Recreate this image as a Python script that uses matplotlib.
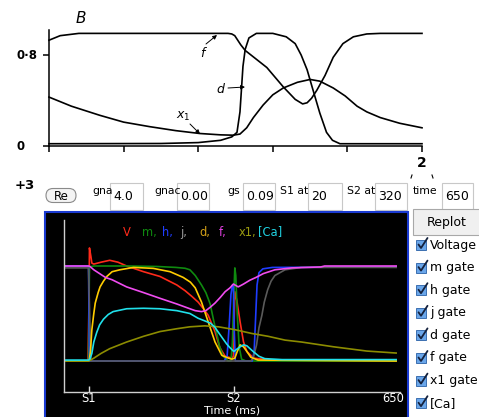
import matplotlib
matplotlib.use('Agg')
import numpy as np
import matplotlib.pyplot as plt
from matplotlib.patches import Rectangle, FancyBboxPatch

W, H = 479, 417

# ---- scanned panel B: gating variables, x in axis units (ticks every 100) ----
f_x = [0, 15, 40, 70, 240, 245, 249, 253, 257, 263, 292, 314, 330, 340, 346, 352, 359, 370, 381, 394, 408, 426, 444, 500]
f_y = [0.93, 0.97, 0.99, 0.99, 0.99, 0.985, 0.97, 0.93, 0.89, 0.84, 0.69, 0.52, 0.41, 0.37, 0.38, 0.42, 0.49, 0.62, 0.78, 0.90, 0.96, 0.985, 0.99, 0.99]

d_x = [0, 150, 200, 230, 245, 252, 256, 258, 260, 263, 268, 278, 300, 318, 330, 338, 346, 354, 363, 372, 380, 390, 500]
d_y = [0.02, 0.022, 0.03, 0.05, 0.08, 0.12, 0.3, 0.5, 0.7, 0.85, 0.95, 0.99, 0.99, 0.96, 0.9, 0.8, 0.67, 0.49, 0.29, 0.12, 0.05, 0.02, 0.02]

x1_x = [0, 30, 68, 100, 135, 170, 202, 230, 247, 256, 265, 274, 287, 300, 314, 333, 350, 363, 381, 397, 413, 426, 444, 470, 500]
x1_y = [0.43, 0.35, 0.27, 0.21, 0.17, 0.135, 0.11, 0.098, 0.095, 0.105, 0.16, 0.25, 0.36, 0.45, 0.51, 0.56, 0.585, 0.57, 0.51, 0.44, 0.35, 0.30, 0.25, 0.20, 0.16]

# ---- simulation panel: normalised traces vs time (ms) ----
S1, S2, t_end = 20, 320, 650

V_t = [-31, 18, 20, 21, 24, 26, 30, 45, 63, 80, 98, 133, 167, 202, 219, 233, 246, 257, 267, 281, 291, 302, 316, 319, 322, 326, 333, 340, 347, 361, 400, 656]
V_v = [0, 0, 0.6, 1.19, 1.1, 1.03, 1.02, 1.04, 1.06, 1.04, 1.0, 0.94, 0.89, 0.80, 0.74, 0.68, 0.62, 0.55, 0.48, 0.31, 0.14, 0.05, 0.03, 0.05, 0.73, 0.64, 0.41, 0.2, 0.1, 0.03, 0.01, 0.0]

m_t = [-31, 19, 21, 30, 100, 160, 200, 219, 229, 240, 253, 262, 271, 278, 284, 290, 298, 308, 314, 317, 320, 322, 324, 327, 331, 336, 345, 656]
m_v = [0, 0, 0.99, 1.0, 1.0, 0.995, 0.985, 0.976, 0.96, 0.9, 0.8, 0.72, 0.6, 0.43, 0.3, 0.16, 0.05, 0.0, 0.0, 0.2, 0.7, 0.98, 0.9, 0.5, 0.15, 0.02, 0.0, 0.0]

h_t = [-31, 19, 21, 300, 306, 310, 314, 317, 319, 321, 323, 358, 362, 365, 368, 372, 380, 400, 656]
h_v = [1.0, 1.0, 0.0, 0.0, 0.05, 0.35, 0.7, 0.8, 0.78, 0.3, 0.0, 0.0, 0.1, 0.45, 0.8, 0.93, 0.97, 0.985, 0.99]

j_t = [-31, 19, 24, 355, 360, 367, 372, 378, 383, 390, 397, 405, 426, 460, 656]
j_v = [0.98, 0.98, 0.0, 0.0, 0.03, 0.17, 0.35, 0.48, 0.62, 0.75, 0.84, 0.9, 0.96, 0.985, 0.985]

d_t = [-31, 19, 21, 23, 26, 30, 33, 39, 43, 50, 57, 68, 84, 112, 153, 188, 215, 230, 240, 253, 267, 281, 295, 309, 316, 322, 327, 333, 340, 347, 355, 370, 656]
d_v = [0, 0, 0.02, 0.1, 0.33, 0.5, 0.61, 0.72, 0.78, 0.84, 0.89, 0.94, 0.96, 0.985, 0.975, 0.94, 0.88, 0.83, 0.77, 0.62, 0.41, 0.2, 0.06, 0.03, 0.02, 0.03, 0.1, 0.17, 0.15, 0.1, 0.04, 0.01, 0.0]

ff_t = [-31, 19, 22, 30, 54, 68, 98, 133, 167, 202, 229, 240, 253, 262, 272, 281, 292, 302, 312, 319, 324, 329, 340, 353, 366, 381, 405, 440, 470, 500, 508, 656]
ff_v = [1.0, 1.0, 0.995, 0.96, 0.88, 0.855, 0.78, 0.72, 0.66, 0.6, 0.55, 0.53, 0.52, 0.53, 0.57, 0.61, 0.67, 0.73, 0.77, 0.81, 0.795, 0.78, 0.81, 0.85, 0.88, 0.92, 0.96, 0.98, 0.985, 0.99, 1.0, 1.0]

xx_t = [-31, 20, 30, 45, 63, 98, 133, 167, 202, 229, 260, 288, 322, 357, 391, 426, 460, 526, 595, 656]
xx_v = [0.0, 0.0, 0.03, 0.08, 0.13, 0.2, 0.26, 0.31, 0.34, 0.36, 0.37, 0.36, 0.33, 0.29, 0.26, 0.22, 0.2, 0.15, 0.105, 0.084]

ca_t = [-31, 20, 22, 26, 30, 36, 42, 50, 60, 70, 98, 133, 167, 202, 229, 246, 271, 280, 291, 305, 312, 320, 330, 340, 347, 360, 372, 384, 420, 656]
ca_v = [0.01, 0.01, 0.02, 0.08, 0.2, 0.3, 0.38, 0.44, 0.49, 0.52, 0.55, 0.555, 0.55, 0.53, 0.5, 0.45, 0.4, 0.36, 0.28, 0.18, 0.14, 0.1, 0.14, 0.17, 0.16, 0.1, 0.05, 0.025, 0.015, 0.015]

traces = [(V_t, V_v, '#ff2a1a'), (m_t, m_v, '#0f8a0f'), (h_t, h_v, '#1f3dff'),
          (j_t, j_v, '#5a5a5a'), (d_t, d_v, '#ffcc00'), (ff_t, ff_v, '#f04cf0'),
          (xx_t, xx_v, '#8c8c00'), (ca_t, ca_v, '#20e0ea')]

legend_words = ['V', 'm,', 'h,', 'j,', 'd,', 'f,', 'x1,', '[Ca]']
legend_cols = ['#ff2a1a', '#0f8a0f', '#1f3dff', '#9a9a9a', '#d4a017', '#e040e0', '#9a9a10', '#20d0e0']
legend_px = [123, 142, 162, 180, 199, 219, 239, 258]

field_labels = ['gna', 'gnac', 'gs', 'S1 at', 'S2 at', 'time']
field_values = ['4.0', '0.00', '0.09', '20', '320', '650']
label_px = [92, 154, 227, 280, 347, 413]
box_px = [(110, 143), (177, 209), (243, 275), (308, 342), (375, 407), (442, 473)]

check_labels = ['Voltage', 'm gate', 'h gate', 'j gate', 'd gate', 'f gate', 'x1 gate', '[Ca]']

fig = plt.figure(figsize=(W / 100, H / 100), dpi=100)


def px_axes(left, top, right, bottom):
    return fig.add_axes([left / W, 1 - bottom / H, (right - left) / W, (bottom - top) / H])


# overlay in pixel coordinates for all the GUI bits
gui = px_axes(0, 0, W, H)
gui.set_xlim(0, W)
gui.set_ylim(H, 0)
gui.axis('off')
gui.set_zorder(0)

# ---------------- top: scanned figure ----------------
ax = px_axes(49, 30, 422, 146)
ax.set_zorder(2)
ax.set_facecolor('none')
ax.set_xlim(0, 500)
ax.set_ylim(0, 116 / 113.75)
for s in ['top', 'right']:
    ax.spines[s].set_visible(False)
for s in ['left', 'bottom']:
    ax.spines[s].set_linewidth(1.1)
ax.set_xticks(np.arange(0, 501, 100))
ax.set_yticks([0, 0.8])
ax.tick_params(direction='out', length=4, width=1.1, labelbottom=False, labelleft=False)
for xs, ys in [(f_x, f_y), (d_x, d_y), (x1_x, x1_y)]:
    ax.plot(xs, ys, color='black', lw=1.2, clip_on=False, solid_joinstyle='round')

gui.text(81, 18, 'B', fontsize=11, style='italic', ha='center', va='center')
gui.text(17, 55, '0\u00b78', fontsize=8.5, fontweight='bold', ha='left', va='center')
gui.text(17, 147, '0', fontsize=8.5, fontweight='bold', ha='left', va='center')
arrow = dict(arrowstyle='-|>', lw=0.7, color='black', mutation_scale=6, shrinkA=0, shrinkB=0)
gui.text(202, 53, 'f', fontsize=9, style='italic', ha='center', va='center')
gui.annotate('', xy=(217, 35), xytext=(206, 44), arrowprops=arrow)
gui.text(220, 89, 'd', fontsize=9, style='italic', ha='center', va='center')
gui.annotate('', xy=(245, 87), xytext=(228, 88), arrowprops=arrow)
gui.text(183, 116, '$x_1$', fontsize=9, ha='center', va='center')
gui.annotate('', xy=(200, 134), xytext=(190, 124), arrowprops=arrow)
gui.text(422, 163, '2', fontsize=10, fontweight='bold', ha='center', va='center')
gui.plot([411, 412], [178, 175], color='black', lw=0.8)
gui.plot([432, 433], [175, 178], color='black', lw=0.8)

# ---------------- control row ----------------
gui.text(25, 185, '+3', fontsize=9.5, fontweight='bold', ha='center', va='center')
gui.add_patch(FancyBboxPatch((46, 188.5), 30, 14, boxstyle='round,pad=0,rounding_size=7',
                             fc='#f4f4f4', ec='#8a8a8a', lw=0.8))
gui.text(61, 196, 'Re', fontsize=8.5, ha='center', va='center')
for lab, val, lx, (bl, br) in zip(field_labels, field_values, label_px, box_px):
    gui.add_patch(Rectangle((bl, 183), br - bl, 27, fc='white', ec='#c8c8c8', lw=0.8))
    gui.text(lx, 191, lab, fontsize=7.8, ha='left', va='center')
    gui.text(bl + 3, 196, val, fontsize=9, ha='left', va='center')

# ---------------- black simulation panel ----------------
gui.add_patch(Rectangle((45, 212), 363, 210, fc='black', ec='#1a3ad0', lw=1.5))
pan = px_axes(64, 220, 400, 392)
pan.set_zorder(2)
pan.set_facecolor('none')
pan.set_xlim(-31.7, 664)
pan.set_ylim(-0.326, 1.484)
for s in ['top', 'right']:
    pan.spines[s].set_visible(False)
for s in ['left', 'bottom']:
    pan.spines[s].set_color('#cfcfcf')
    pan.spines[s].set_linewidth(1.0)
pan.set_yticks([])
pan.set_xticks([S1, S2, t_end], ['S1', 'S2', str(t_end)])
pan.tick_params(axis='x', direction='in', length=4.5, width=1.0, color='#dddddd',
                labelcolor='white', labelsize=8.3, pad=0.3)
pan.xaxis.get_major_ticks()[2].tick1line.set_visible(False)
pan.set_xlabel('Time (ms)', color='white', fontsize=8, va='center')
pan.xaxis.set_label_coords(0.5, -0.108)
for ts, vs, c in traces:
    pan.plot(ts, vs, color=c, lw=1.2)
for word, col, lx in zip(legend_words, legend_cols, legend_px):
    gui.text(lx, 232, word, color=col, fontsize=8.3, ha='left', va='center', zorder=3)

# ---------------- right-hand controls ----------------
gui.add_patch(Rectangle((413, 209), 70, 26, fc='#f0f0f0', ec='#a8a8a8', lw=0.8))
gui.text(447, 222, 'Replot', fontsize=9, ha='center', va='center')
for i, lab in enumerate(check_labels):
    y = 245 + 22.6 * i
    gui.add_patch(Rectangle((416.5, y - 5), 10, 10, fc='#6aa6ea', ec='#3c6fb0', lw=0.7))
    gui.plot([418.5, 421, 427.5], [y - 0.5, y + 3, y - 7], color='#14213d', lw=1.3,
             solid_capstyle='round')
    gui.text(430, y, lab, fontsize=9, ha='left', va='center')

fig.savefig('out.png', dpi=100)
